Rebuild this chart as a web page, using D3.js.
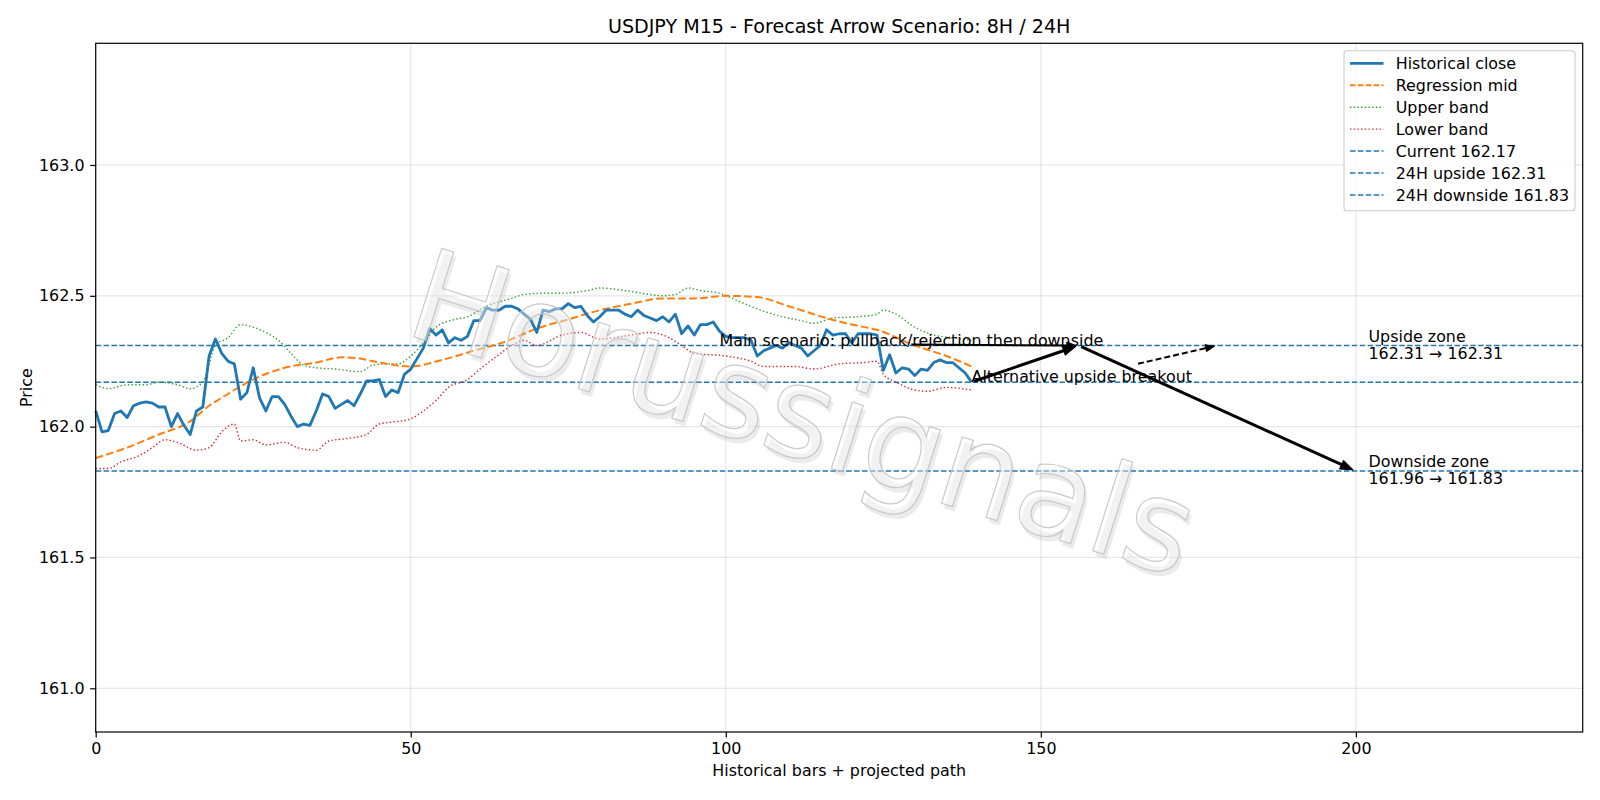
<!DOCTYPE html>
<html>
<head>
<meta charset="utf-8">
<script src="https://cdn.jsdelivr.net/npm/d3@7"></script>
<style>
  body { margin: 0; background: #fff; }
  svg { display: block; font-family: "DejaVu Sans", sans-serif; }
</style>
</head>
<body>
<svg id="chart" width="1600" height="800"></svg>
<script>
// historical close, one value per bar (0..139)
const closeVals = [
  162.06, 161.98, 161.985, 162.05, 162.06, 162.035, 162.08, 162.09, 162.095, 162.09,
  162.075, 162.075, 162.0, 162.05, 162.005, 161.97, 162.06, 162.075, 162.27, 162.335,
  162.28, 162.25, 162.24, 162.105, 162.13, 162.225, 162.11, 162.06, 162.115, 162.115,
  162.085, 162.04, 162.0, 162.01, 162.005, 162.06, 162.125, 162.115, 162.07, 162.085,
  162.1, 162.08, 162.125, 162.175, 162.175, 162.18, 162.115, 162.14, 162.13, 162.2,
  162.22, 162.26, 162.3, 162.375, 162.35, 162.37, 162.32, 162.34, 162.33, 162.345,
  162.405, 162.405, 162.455, 162.445, 162.445, 162.46, 162.46, 162.45, 162.43, 162.41,
  162.36, 162.445, 162.44, 162.45, 162.45, 162.47, 162.455, 162.46, 162.425, 162.4,
  162.42, 162.445, 162.445, 162.445, 162.43, 162.42, 162.445, 162.425, 162.415, 162.405,
  162.42, 162.4, 162.43, 162.355, 162.385, 162.35, 162.39, 162.39, 162.4, 162.365,
  162.345, 162.34, 162.34, 162.34, 162.33, 162.27, 162.29, 162.3, 162.31, 162.3,
  162.32, 162.31, 162.3, 162.27, 162.29, 162.31, 162.37, 162.35, 162.355, 162.355,
  162.32, 162.355, 162.355, 162.355, 162.35, 162.215, 162.275, 162.205, 162.225, 162.22,
  162.195, 162.22, 162.215, 162.245, 162.255, 162.245, 162.245, 162.225, 162.205, 162.17
];

// regression mid (read at these bars)
const midBars = [0, 5, 10, 15, 18, 20, 22, 25, 30, 35, 39, 42, 45, 50, 55, 60, 65, 70, 75, 80,
  85, 90, 95, 100, 105, 110, 116, 120, 124, 130, 135, 139];
const midVals = [161.88, 161.92, 161.97, 162.02, 162.08, 162.11, 162.14, 162.18, 162.225, 162.245,
  162.265, 162.26, 162.245, 162.23, 162.255, 162.29, 162.325, 162.375, 162.41, 162.445,
  162.47, 162.49, 162.49, 162.5, 162.495, 162.46, 162.415, 162.39, 162.37, 162.31, 162.27, 162.23];

// upper band
const upperBars = [0, 2, 5, 8, 10, 13, 15, 17, 19, 21, 23, 25, 27, 29, 31, 33, 35, 38, 42, 44,
  46, 48, 50, 52, 54, 57, 59, 62, 66, 68, 71, 74, 78, 80, 84, 88, 90, 92, 94, 96,
  99, 102, 105, 109, 112, 114, 117, 121, 124, 125, 127, 130, 133, 136, 139];
const upperVals = [162.16, 162.145, 162.16, 162.16, 162.17, 162.16, 162.145, 162.17, 162.31, 162.34,
  162.39, 162.38, 162.36, 162.33, 162.28, 162.235, 162.225, 162.22, 162.21, 162.235,
  162.24, 162.24, 162.27, 162.32, 162.38, 162.41, 162.42, 162.46, 162.49, 162.505,
  162.51, 162.51, 162.52, 162.53, 162.52, 162.505, 162.5, 162.505, 162.53, 162.52,
  162.51, 162.48, 162.45, 162.42, 162.405, 162.395, 162.415, 162.42, 162.43, 162.445,
  162.43, 162.38, 162.35, 162.34, 162.33];

// lower band
const lowerBars = [0, 2, 4, 7, 9, 11, 13, 16, 18, 20, 22, 23, 25, 27, 30, 32, 35, 37, 40, 43,
  45, 48, 50, 52, 54, 56, 59, 61, 64, 66, 68, 70, 74, 77, 80, 85, 88, 91, 93, 95,
  100, 104, 106, 111, 114, 118, 122, 124, 125, 127, 130, 132, 135, 139];
const lowerVals = [161.84, 161.84, 161.865, 161.89, 161.92, 161.95, 161.94, 161.91, 161.92, 161.98,
  162.01, 161.945, 161.95, 161.93, 161.94, 161.92, 161.91, 161.945, 161.955, 161.97,
  162.01, 162.02, 162.03, 162.06, 162.1, 162.15, 162.18, 162.22, 162.275, 162.31,
  162.33, 162.31, 162.35, 162.36, 162.335, 162.35, 162.36, 162.34, 162.31, 162.28,
  162.27, 162.25, 162.23, 162.23, 162.22, 162.24, 162.245, 162.25, 162.2, 162.17,
  162.14, 162.135, 162.15, 162.14];

const currentPrice = 162.17;
const upside24 = 162.31;
const downside24 = 161.83;
const downsideStart = 161.96;

const pivotBar = 156;      // end of pullback leg
const downsideBar = 200;   // end of main downside leg
const altBar = 178;        // end of alternative breakout
const zoneLabelBar = 202;
const mainLabelBar = 99;

const xTicks = [0, 50, 100, 150, 200];
const yTicks = [161.0, 161.5, 162.0, 162.5, 163.0];

const legendItems = [
  { label: "Historical close", color: "#1f77b4", width: 2.8, dash: null },
  { label: "Regression mid", color: "#ff7f0e", width: 2, dash: "5.5,2.4" },
  { label: "Upper band", color: "#2ca02c", width: 1.4, dash: "1.4,2.3" },
  { label: "Lower band", color: "#d62728", width: 1.4, dash: "1.4,2.3" },
  { label: "Current " + currentPrice.toFixed(2), color: "#1f77b4", width: 1.5, dash: "5.5,2.4" },
  { label: "24H upside " + upside24.toFixed(2), color: "#1f77b4", width: 1.5, dash: "5.5,2.4" },
  { label: "24H downside " + downside24.toFixed(2), color: "#1f77b4", width: 1.5, dash: "5.5,2.4" }
];

const MARGIN = { LEFT: 95.7, RIGHT: 17.3, TOP: 43.3, BOTTOM: 68 };
const width = 1600, height = 800;
const FONT = 15.9;

const svg = d3.select("#chart");

const x = d3.scaleLinear().domain([0, 236]).range([MARGIN.LEFT, width - MARGIN.RIGHT]);
const y = d3.scaleLinear().domain([160.833, 163.465]).range([height - MARGIN.BOTTOM, MARGIN.TOP]);

// grid
const grid = svg.append("g").attr("class", "grid");
grid.selectAll("line.gx").data(xTicks).join("line")
  .attr("x1", d => x(d)).attr("x2", d => x(d))
  .attr("y1", y.range()[1]).attr("y2", y.range()[0])
  .attr("stroke", "#b0b0b0").attr("stroke-opacity", 0.3).attr("stroke-width", 1.2);
grid.selectAll("line.gy").data(yTicks).join("line")
  .attr("y1", d => y(d)).attr("y2", d => y(d))
  .attr("x1", x.range()[0]).attr("x2", x.range()[1])
  .attr("stroke", "#b0b0b0").attr("stroke-opacity", 0.3).attr("stroke-width", 1.2);

const plot = svg.append("g");

// horizontal levels
[currentPrice, upside24, downside24].forEach(v => {
  plot.append("line")
    .attr("x1", x.range()[0]).attr("x2", x.range()[1])
    .attr("y1", y(v)).attr("y2", y(v))
    .attr("stroke", "#1f77b4").attr("stroke-width", 1.5)
    .attr("stroke-dasharray", "5.5,2.4");
});

const smooth = d3.line().x(d => x(d[0])).y(d => y(d[1])).curve(d3.curveMonotoneX);
const straight = d3.line().x((d, i) => x(i)).y(d => y(d));

plot.append("path")
  .attr("d", smooth(upperBars.map((b, i) => [b, upperVals[i]])))
  .attr("fill", "none").attr("stroke", "#2ca02c").attr("stroke-width", 1.4)
  .attr("stroke-dasharray", "1.4,2.3");
plot.append("path")
  .attr("d", smooth(lowerBars.map((b, i) => [b, lowerVals[i]])))
  .attr("fill", "none").attr("stroke", "#d62728").attr("stroke-width", 1.4)
  .attr("stroke-dasharray", "1.4,2.3");
plot.append("path")
  .attr("d", smooth(midBars.map((b, i) => [b, midVals[i]])))
  .attr("fill", "none").attr("stroke", "#ff7f0e").attr("stroke-width", 2)
  .attr("stroke-dasharray", "7.7,3.3");
plot.append("path")
  .attr("d", straight(closeVals))
  .attr("fill", "none").attr("stroke", "#1f77b4").attr("stroke-width", 2.8)
  .attr("stroke-linejoin", "round");

// arrows
function drawArrow(g, p1, p2, opts) {
  const { lw, dash, headLen, headW, shrinkA, shrinkB } = opts;
  const dx = p2[0] - p1[0], dy = p2[1] - p1[1];
  const L = Math.sqrt(dx * dx + dy * dy);
  const ux = dx / L, uy = dy / L;
  const s = [p1[0] + ux * shrinkA, p1[1] + uy * shrinkA];
  const tip = [p2[0] - ux * shrinkB, p2[1] - uy * shrinkB];
  const base = [tip[0] - ux * headLen, tip[1] - uy * headLen];
  g.append("line")
    .attr("x1", s[0]).attr("y1", s[1])
    .attr("x2", base[0] + ux * 2).attr("y2", base[1] + uy * 2)
    .attr("stroke", "#000").attr("stroke-width", lw)
    .attr("stroke-dasharray", dash);
  g.append("path")
    .attr("d", `M ${tip[0]} ${tip[1]}
      L ${base[0] - uy * headW} ${base[1] + ux * headW}
      L ${base[0] + uy * headW} ${base[1] - ux * headW} Z`)
    .attr("fill", "#000").attr("stroke", "#000").attr("stroke-width", 1)
    .attr("stroke-linejoin", "miter");
}

const ann = svg.append("g");
const lastBar = closeVals.length - 1;
const pStart = [x(lastBar), y(closeVals[lastBar])];
const pPivot = [x(pivotBar), y(upside24)];
const pDown = [x(downsideBar), y(downside24)];
const pAlt = [x(altBar), y(upside24)];

// text labels
const mainText = ann.append("text")
  .attr("x", x(mainLabelBar)).attr("y", y(upside24))
  .attr("font-size", FONT).attr("fill", "#000")
  .text("Main scenario: pullback/rejection then downside");
const altText = ann.append("text")
  .attr("x", x(lastBar)).attr("y", y(currentPrice))
  .attr("font-size", FONT).attr("fill", "#000")
  .text("Alternative upside breakout");

drawArrow(ann, pStart, pPivot, { lw: 3, dash: null, headLen: 13, headW: 4.8, shrinkA: 2.8, shrinkB: 2.8 });
drawArrow(ann, pPivot, pDown, { lw: 3, dash: null, headLen: 13, headW: 4.8, shrinkA: 2.8, shrinkB: 2.8 });

// main label arrow runs from the label centre to the pivot
const mb = mainText.node().getBBox();
drawArrow(ann, [mb.x + mb.width / 2, y(upside24) - 1], pPivot,
  { lw: 2, dash: null, headLen: 9, headW: 3.5, shrinkA: 0, shrinkB: 2.8 });

// alternative arrow starts where it leaves the padded label box
const ab = altText.node().getBBox();
const pad = 2.8;
const c = [ab.x + ab.width / 2, ab.y + ab.height / 2];
const ddx = pAlt[0] - c[0], ddy = pAlt[1] - c[1];
const tx = (ab.width / 2 + pad) / Math.abs(ddx);
const ty = (ab.height / 2 + pad) / Math.abs(ddy);
const t = Math.min(tx, ty);
drawArrow(ann, [c[0] + ddx * t, c[1] + ddy * t], pAlt,
  { lw: 2, dash: "6,3", headLen: 9, headW: 3.5, shrinkA: 2.8, shrinkB: 2.8 });

// zone labels
function zoneLabel(level, line1, line2) {
  const tt = ann.append("text").attr("font-size", FONT).attr("fill", "#000");
  tt.append("tspan").attr("x", x(zoneLabelBar)).attr("y", y(level) - 4).text(line1);
  tt.append("tspan").attr("x", x(zoneLabelBar)).attr("y", y(level) + 13).text(line2);
}
zoneLabel(upside24, "Upside zone", `${upside24.toFixed(2)} \u2192 ${upside24.toFixed(2)}`);
zoneLabel(downside24, "Downside zone", `${downsideStart.toFixed(2)} \u2192 ${downside24.toFixed(2)}`);

// watermark
const wm = svg.append("g")
  .attr("transform", "translate(402,333) rotate(17.5)")
  .attr("font-size", 127);
wm.append("text").attr("x", 4).attr("y", 4)
  .attr("fill", "#9a9a9a").attr("fill-opacity", 0.2)
  .text("Horussignals");
wm.append("text")
  .attr("fill", "#ffffff").attr("fill-opacity", 0.35)
  .attr("stroke", "#c2c2c2").attr("stroke-width", 1.2).attr("stroke-opacity", 0.85)
  .text("Horussignals");

// axes
const xAxis = svg.append("g")
  .attr("transform", `translate(0,${height - MARGIN.BOTTOM})`)
  .call(d3.axisBottom(x).tickValues(xTicks).tickSizeOuter(0).tickSize(5.6).tickPadding(5.6));
const yAxis = svg.append("g")
  .attr("transform", `translate(${MARGIN.LEFT},0)`)
  .call(d3.axisLeft(y).tickValues(yTicks).tickFormat(d3.format(".1f")).tickSizeOuter(0).tickSize(5.6).tickPadding(5.6));
[xAxis, yAxis].forEach(a => {
  a.select(".domain").remove();
  a.selectAll("text").attr("font-size", FONT).attr("fill", "#000")
    .attr("font-family", "DejaVu Sans");
  a.selectAll("line").attr("stroke", "#000").attr("stroke-width", 1.2);
});

// frame
svg.append("rect")
  .attr("x", x.range()[0]).attr("y", y.range()[1])
  .attr("width", x.range()[1] - x.range()[0])
  .attr("height", y.range()[0] - y.range()[1])
  .attr("fill", "none").attr("stroke", "#000").attr("stroke-width", 1.2);

// titles
svg.append("text")
  .attr("x", (x.range()[0] + x.range()[1]) / 2).attr("y", 32.5)
  .attr("text-anchor", "middle").attr("font-size", 19.1)
  .text("USDJPY M15 - Forecast Arrow Scenario: 8H / 24H");
svg.append("text")
  .attr("x", (x.range()[0] + x.range()[1]) / 2).attr("y", 776)
  .attr("text-anchor", "middle").attr("font-size", FONT)
  .text("Historical bars + projected path");
svg.append("text")
  .attr("transform", `translate(32,${(y.range()[0] + y.range()[1]) / 2}) rotate(-90)`)
  .attr("text-anchor", "middle").attr("font-size", FONT)
  .text("Price");

// legend
const leg = svg.append("g").attr("transform", "translate(1344,50.7)");
leg.append("rect")
  .attr("width", 231).attr("height", 160).attr("rx", 3)
  .attr("fill", "#fff").attr("fill-opacity", 0.8)
  .attr("stroke", "#cccccc").attr("stroke-width", 1.1);
const rows = leg.selectAll("g.row").data(legendItems).join("g")
  .attr("transform", (d, i) => `translate(0,${12.6 + i * 21.95})`);
rows.append("line")
  .attr("x1", 6).attr("x2", 39.5)
  .attr("stroke", d => d.color).attr("stroke-width", d => d.width)
  .attr("stroke-dasharray", d => d.dash);
rows.append("text")
  .attr("x", 51.7).attr("y", 5.6)
  .attr("font-size", FONT).attr("fill", "#000")
  .text(d => d.label);
</script>
</body>
</html>
